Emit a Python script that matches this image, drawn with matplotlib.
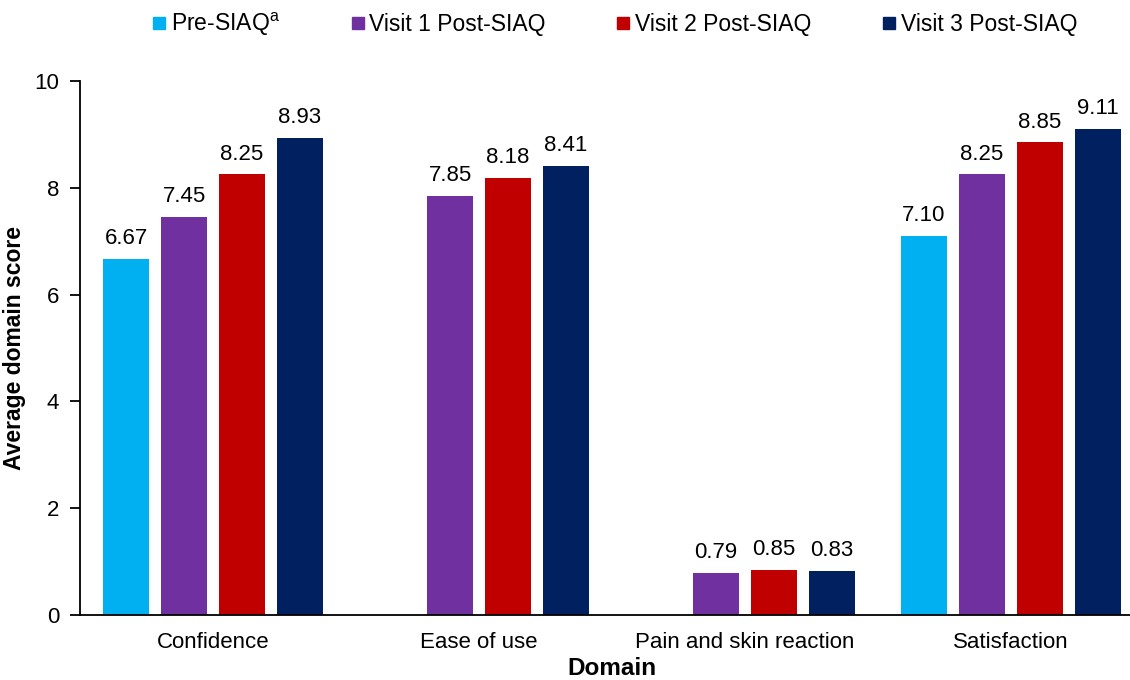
import matplotlib
matplotlib.use("Agg")
import matplotlib.pyplot as plt
import numpy as np
from matplotlib.lines import Line2D

plt.rcParams['font.family'] = ['Liberation Sans', 'DejaVu Sans']
plt.rcParams['mathtext.fontset'] = 'custom'
plt.rcParams['mathtext.rm'] = 'Liberation Sans'

domains = ["Confidence", "Ease of use", "Pain and skin reaction", "Satisfaction"]
series_names = ["Pre-SIAQ$^{\\mathrm{a}}$", "Visit 1 Post-SIAQ", "Visit 2 Post-SIAQ", "Visit 3 Post-SIAQ"]
pre_siaq = [6.67, np.nan, np.nan, 7.10]
visit1 = [7.45, 7.85, 0.79, 8.25]
visit2 = [8.25, 8.18, 0.85, 8.85]
visit3 = [8.93, 8.41, 0.83, 9.11]
colors = ["#00B0F0", "#7030A0", "#C00000", "#002060"]

fig = plt.figure(figsize=(11.3, 6.8), dpi=100)
ax = fig.add_axes([80 / 1130, 65 / 680, 1064 / 1130, 534 / 680])

x = np.arange(len(domains))
width = 0.173
step = 0.218
for i, (vals, col) in enumerate(zip([pre_siaq, visit1, visit2, visit3], colors)):
    offs = (i - 1.5) * step
    bars = ax.bar(x + offs, vals, width, color=col)
    labels = ["" if np.isnan(v) else f"{v:.2f}" for v in vals]
    ax.bar_label(bars, labels=labels, padding=7, fontsize=16)

ax.set_xlim(-0.5, 3.5)
ax.set_ylim(0, 10)
ax.set_yticks([0, 2, 4, 6, 8, 10])
ax.set_xticks(x)
ax.set_xticklabels(domains)
ax.tick_params(axis='x', length=0, labelsize=16, pad=12)
ax.tick_params(axis='y', length=7, width=1.3, labelsize=16, pad=8)
for s in ["top", "right"]:
    ax.spines[s].set_visible(False)
for s in ["left", "bottom"]:
    ax.spines[s].set_linewidth(1.3)

ax.set_ylabel("Average domain score", fontsize=16.5, fontweight='bold', labelpad=6)
ax.set_xlabel("Domain", fontsize=17.5, fontweight='bold', labelpad=3)

handles = [Line2D([], [], marker='s', linestyle='none', markersize=8,
                  markerfacecolor=c, markeredgecolor=c) for c in colors]
fig.legend(handles, series_names, loc='upper center', ncol=4, frameon=False,
           bbox_to_anchor=(0.543, 1.015), fontsize=16.5, handletextpad=0.1,
           columnspacing=3.0, handlelength=0.8)

fig.savefig("out.png", dpi=100)
